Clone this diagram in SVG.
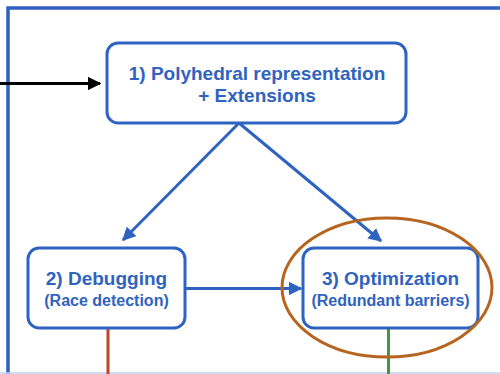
<svg xmlns="http://www.w3.org/2000/svg" width="500" height="374" viewBox="0 0 500 374">
<defs>
<style>
.box{fill:#fff;stroke:#2F63C1;stroke-width:3}
.t{font-family:"Liberation Sans",Arial,sans-serif;font-weight:bold;fill:#3063BE;text-anchor:middle}
.big{font-size:19px}
.small{font-size:16px}
.edge{stroke:#2F63C1;stroke-width:3;fill:none}
</style>
<marker id="ab" viewBox="0 0 10 10" refX="9" refY="5" markerWidth="4.5" markerHeight="4.5" orient="auto" markerUnits="strokeWidth"><path d="M0,0 L10,5 L0,10 z" fill="#2F63C1"/></marker>
<marker id="ak" viewBox="0 0 10 10" refX="9" refY="5" markerWidth="4.5" markerHeight="4.5" orient="auto" markerUnits="strokeWidth"><path d="M0,0 L10,5 L0,10 z" fill="#000"/></marker>
</defs>
<rect width="500" height="374" fill="#fff"/>
<g id="frame">
<path d="M8,374 L8,8 L502,8" fill="none" stroke="#2F63C1" stroke-width="3.5"/>
<line x1="0" y1="373" x2="500" y2="373" stroke="#BFD0F0" stroke-width="1.5"/>
</g>
<g id="connectors">
<line x1="0" y1="83.5" x2="100" y2="83.5" stroke="#000" stroke-width="3" marker-end="url(#ak)"/>
<line class="edge" x1="239" y1="123" x2="123" y2="240" marker-end="url(#ab)"/>
<line class="edge" x1="239" y1="123" x2="381" y2="241" marker-end="url(#ab)"/>
<line class="edge" x1="185" y1="288.5" x2="301" y2="288.5" marker-end="url(#ab)"/>
<line x1="108" y1="328" x2="108" y2="374" stroke="#C4432B" stroke-width="3"/>
<line x1="388.5" y1="328" x2="388.5" y2="374" stroke="#3E9A3A" stroke-width="3"/>
</g>
<g id="node1">
<rect class="box" x="107" y="43" width="299" height="80" rx="11"/>
<text class="t big" x="257" y="80">1) Polyhedral representation</text>
<text class="t big" x="257" y="102">+ Extensions</text>
</g>
<g id="node2">
<rect class="box" x="28" y="248" width="157" height="80" rx="11"/>
<text class="t big" x="106.5" y="285">2) Debugging</text>
<text class="t small" x="106.5" y="306">(Race detection)</text>
</g>
<g id="node3">
<rect class="box" x="303" y="248" width="175" height="80" rx="11"/>
<text class="t big" x="390.5" y="285">3) Optimization</text>
<text class="t small" x="390.5" y="306">(Redundant barriers)</text>
</g>
<g id="highlight">
<ellipse cx="387" cy="287.5" rx="105" ry="69.5" fill="none" stroke="#B5651F" stroke-width="3"/>
</g>
</svg>
